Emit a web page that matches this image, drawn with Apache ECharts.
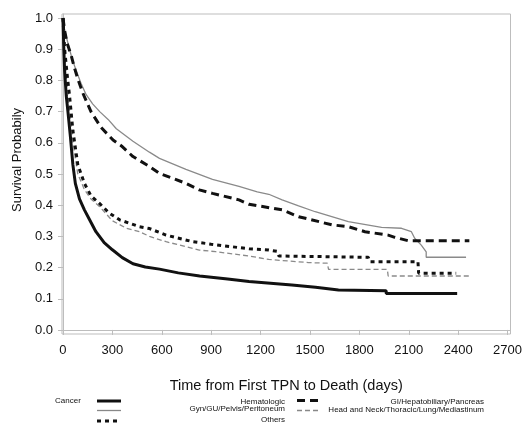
<!DOCTYPE html>
<html lang="en">
<head>
<meta charset="UTF-8">
<title>Survival</title>
<style>
  html, body { margin: 0; padding: 0; background: #fff; }
  #main { width: 525px; height: 423px; }
</style>
</head>
<body>
<div id="main"></div>
<script src="https://cdn.jsdelivr.net/npm/echarts@6/dist/echarts.min.js"></script>
<script>
// Kaplan-Meier curves (days, survival probability)
const hemDays = [0, 5, 10, 20, 30, 45, 60, 75, 100, 130, 160, 200, 250, 300, 360, 425, 500, 586, 700, 830, 1000, 1130, 1390, 1534, 1673, 1963, 1963, 2394];
const hemSurv = [1.0, 0.90, 0.83, 0.75, 0.70, 0.62, 0.53, 0.47, 0.42, 0.385, 0.355, 0.315, 0.28, 0.257, 0.232, 0.212, 0.202, 0.195, 0.183, 0.173, 0.163, 0.155, 0.144, 0.137, 0.128, 0.126, 0.117, 0.117];

const giDays = [0, 10, 25, 50, 70, 90, 120, 170, 230, 304, 355, 425, 525, 586, 747, 828, 908, 1069, 1130, 1331, 1431, 1472, 1633, 1733, 1834, 1975, 2015, 2096, 2468];
const giSurv = [1.0, 0.96, 0.92, 0.88, 0.84, 0.805, 0.76, 0.70, 0.65, 0.609, 0.59, 0.556, 0.524, 0.502, 0.47, 0.449, 0.438, 0.417, 0.403, 0.385, 0.363, 0.358, 0.337, 0.331, 0.315, 0.304, 0.297, 0.286, 0.286];

const gynDays = [0, 10, 30, 55, 81, 110, 140, 180, 223, 274, 324, 425, 525, 586, 747, 908, 1069, 1180, 1250, 1331, 1431, 1532, 1733, 1935, 2056, 2116, 2136, 2176, 2206, 2206, 2448];
const gynSurv = [1.0, 0.96, 0.92, 0.87, 0.83, 0.79, 0.755, 0.725, 0.70, 0.675, 0.645, 0.605, 0.57, 0.55, 0.515, 0.483, 0.46, 0.443, 0.435, 0.417, 0.398, 0.379, 0.347, 0.329, 0.326, 0.315, 0.294, 0.272, 0.25, 0.233, 0.233];

const hnDays = [0, 10, 25, 40, 60, 90, 130, 170, 223, 300, 385, 465, 525, 626, 828, 928, 1130, 1250, 1492, 1605, 1613, 1970, 1975, 2474];
const hnSurv = [1.0, 0.88, 0.78, 0.70, 0.60, 0.50, 0.45, 0.42, 0.395, 0.35, 0.326, 0.315, 0.30, 0.283, 0.256, 0.251, 0.237, 0.226, 0.216, 0.214, 0.194, 0.194, 0.173, 0.173];

const othDays = [0, 10, 25, 40, 60, 90, 130, 170, 223, 280, 344, 465, 526, 626, 787, 900, 1130, 1250, 1300, 1311, 1854, 1864, 2156, 2160, 2388];
const othSurv = [1.0, 0.90, 0.82, 0.75, 0.64, 0.53, 0.47, 0.43, 0.405, 0.375, 0.353, 0.331, 0.325, 0.304, 0.283, 0.275, 0.26, 0.256, 0.252, 0.237, 0.233, 0.219, 0.219, 0.182, 0.182];

const xTicks = [0, 300, 600, 900, 1200, 1500, 1800, 2100, 2400, 2700];
const yTicks = [0, 0.1, 0.2, 0.3, 0.4, 0.5, 0.6, 0.7, 0.8, 0.9, 1.0];

const FONT = '"Liberation Sans", Arial, sans-serif';
const pts = (xs, ys) => xs.map((x, i) => [x, ys[i]]);

var chart = echarts.init(document.getElementById('main'));

function line(name, xs, ys, color, width, dash) {
    return {
        name: name,
        type: 'line',
        data: pts(xs, ys),
        showSymbol: false,
        symbol: 'none',
        lineStyle: { color: color, width: width, type: dash || 'solid' },
        emphasis: { disabled: true }
    };
}

function legText(txt, x, y, align) {
    return {
        type: 'text',
        style: { text: txt, x: x, y: y, align: align || 'right', verticalAlign: 'middle', font: '8px ' + FONT, fill: '#111' }
    };
}
function legLine(x1, x2, y, color, w, dash) {
    return {
        type: 'line',
        shape: { x1: x1, y1: y, x2: x2, y2: y },
        style: { stroke: color, lineWidth: w, lineDash: dash || null }
    };
}

// legend laid out like the SAS one: icon column, right aligned labels
const legendBits = [
    legText('Cancer', 55, 401, 'left'),
    legLine(97, 121, 401, '#111', 3),
    legLine(97, 121, 410.5, '#888', 1.3),
    legLine(97, 121, 421, '#111', 3, [4, 4]),
    legText('Hematologic', 285, 401.5),
    legText('Gyn/GU/Pelvis/Peritoneum', 285, 409),
    legText('Others', 285, 420),
    legLine(297, 320, 400.5, '#111', 3, [8, 5]),
    legLine(297, 320, 410.5, '#888', 1.3, [5, 3]),
    legText('GI/Hepatobiliary/Pancreas', 484, 401.5),
    legText('Head and Neck/Thoracic/Lung/Mediastinum', 484, 410)
];

var option = {
    animation: false,
    backgroundColor: '#fff',
    grid: {
        left: 62, right: 14, top: 14, bottom: 89,
        show: true, borderColor: '#bdbdbd', borderWidth: 1, backgroundColor: 'transparent'
    },
    xAxis: {
        type: 'value',
        min: -6, max: 2718,
        name: 'Time from First TPN to Death (days)',
        nameLocation: 'middle',
        nameGap: 44,
        nameTextStyle: { fontFamily: FONT, fontSize: 14.5, color: '#111' },
        axisLine: { show: true, lineStyle: { color: '#bdbdbd' } },
        axisTick: { show: true, length: 5, customValues: xTicks, lineStyle: { color: '#bdbdbd' } },
        axisLabel: {
            customValues: xTicks, margin: 10, fontFamily: FONT, fontSize: 13, color: '#111',
            formatter: v => String(v)
        },
        splitLine: { show: false }
    },
    yAxis: {
        type: 'value',
        min: -0.013, max: 1.013,
        name: 'Survival Probabily',
        nameLocation: 'middle',
        nameGap: 38,
        nameTextStyle: { fontFamily: FONT, fontSize: 13, color: '#111', padding: [0, 0, 0, 28] },
        axisLine: { show: true, lineStyle: { color: '#bdbdbd' } },
        axisTick: { show: true, length: 5, customValues: yTicks, lineStyle: { color: '#bdbdbd' } },
        axisLabel: {
            customValues: yTicks, margin: 9, fontFamily: FONT, fontSize: 13, color: '#111',
            formatter: v => v.toFixed(1)
        },
        splitLine: { show: false }
    },
    series: [
        line('Head and Neck/Thoracic/Lung/Mediastinum', hnDays, hnSurv, '#8a8a8a', 1.3, [5, 3]),
        line('Gyn/GU/Pelvis/Peritoneum', gynDays, gynSurv, '#8a8a8a', 1.3),
        line('Others', othDays, othSurv, '#111', 3, [4, 4]),
        line('GI/Hepatobiliary/Pancreas', giDays, giSurv, '#111', 3, [8, 5]),
        line('Hematologic', hemDays, hemSurv, '#111', 3)
    ],
    graphic: legendBits
};
option && chart.setOption(option);
</script>
</body>
</html>
